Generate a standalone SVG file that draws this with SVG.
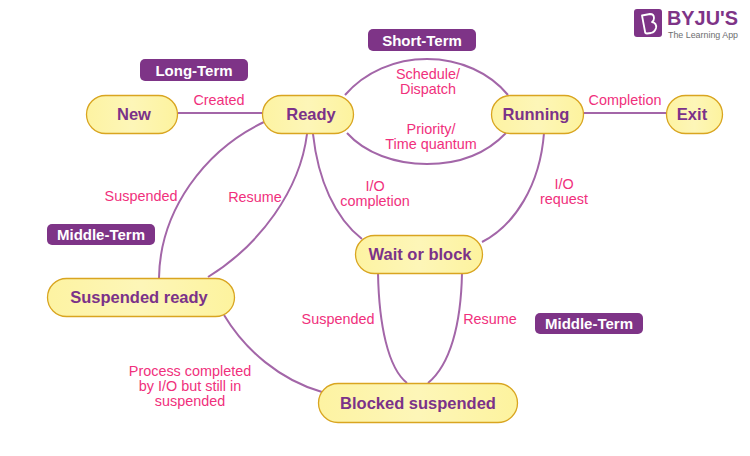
<svg xmlns="http://www.w3.org/2000/svg" width="750" height="456" viewBox="0 0 750 456">
<style>
text{font-family:"Liberation Sans",Arial,sans-serif;text-anchor:middle}
.n rect{fill:url(#g);stroke:#d9a520;stroke-width:1.3}
.n text{fill:#7b3289;font-weight:bold;font-size:16.500px}
.b rect{fill:#7e3487}
.b text{fill:#fff;font-weight:bold;font-size:15px}
.l{fill:#f0307c;font-size:14.400px}
#c path{fill:none;stroke:#a366a8;stroke-width:2}
</style>
<defs><linearGradient id="g" x1="0" y1="0" x2="1" y2="0"><stop offset="0" stop-color="#fdf3a2"/><stop offset=".5" stop-color="#fdf6b8"/><stop offset="1" stop-color="#fdf39e"/></linearGradient></defs>
<rect width="750" height="456" fill="#fff"/>
<g id="c">
<path d="M178 113H262"/>
<path d="M345 95C365 72 395 59 427 59C460 59 490 73 508 95"/>
<path d="M347 133C365 153 395 164 427 164C458 164 486 154 506 133"/>
<path d="M584 113H666"/>
<path d="M264 122C205 150 160 210 159 278"/>
<path d="M307 134C300 190 260 245 208 277"/>
<path d="M313 134C318 180 335 218 362 239"/>
<path d="M544 133C540 185 515 225 482 242"/>
<path d="M378 273C379 325 388 368 407 383"/>
<path d="M462 273C461 325 450 365 428 383"/>
<path d="M224 315C245 350 280 380 322 392"/>
</g>
<g id="logo"><rect x="634" y="9" width="28" height="28" rx="3" fill="#7e3487"/><path d="M642 15.500L650 14Q654 14 654 18Q654 21 652 22Q657 23 656 28Q655 32 651 33L647 33.500Q645 33.500 645 31.500Z" fill="none" stroke="#fff" stroke-width="1.800" stroke-linejoin="round"/>
<text x="702.500" y="25" font-size="20" font-weight="bold" fill="#7e3487" textLength="71" lengthAdjust="spacingAndGlyphs">BYJU'S</text>
<text x="703" y="37.500" font-size="9.500" fill="#6d6e71" textLength="70" lengthAdjust="spacingAndGlyphs">The Learning App</text></g>
<g id="new" class="n"><rect x="86.500" y="95.500" width="91" height="38" rx="19"/><text x="134" y="120">New</text></g>
<g id="ready" class="n"><rect x="262.500" y="95.500" width="91" height="38" rx="19"/><text x="311" y="120">Ready</text></g>
<g id="running" class="n"><rect x="491.500" y="95.500" width="92" height="38" rx="19"/><text x="536" y="120">Running</text></g>
<g id="exit" class="n"><rect x="666.500" y="95.500" width="56" height="38" rx="19"/><text x="692" y="120">Exit</text></g>
<g id="wait" class="n"><rect x="355.500" y="235.500" width="127" height="38" rx="19"/><text x="420" y="260">Wait or block</text></g>
<g id="suspended-ready" class="n"><rect x="47.500" y="278.500" width="187" height="38" rx="19"/><text x="139" y="303">Suspended ready</text></g>
<g id="blocked-suspended" class="n"><rect x="318.500" y="383.500" width="199" height="39" rx="19.500"/><text x="418" y="409">Blocked suspended</text></g>
<g id="short-term" class="b"><rect x="368" y="29" width="108" height="22" rx="5"/><text x="422" y="45.500">Short-Term</text></g>
<g id="long-term" class="b"><rect x="140" y="59" width="108" height="22" rx="5"/><text x="194" y="75.500">Long-Term</text></g>
<g id="middle-term-1" class="b"><rect x="47" y="224" width="108" height="21" rx="5"/><text x="101" y="240">Middle-Term</text></g>
<g id="middle-term-2" class="b"><rect x="535" y="313" width="108" height="21" rx="5"/><text x="589" y="329">Middle-Term</text></g>
<g id="labels">
<text class="l" x="219" y="105">Created</text>
<text class="l" x="428" y="79">Schedule/</text><text class="l" x="428" y="94">Dispatch</text>
<text class="l" x="431" y="134">Priority/</text><text class="l" x="431" y="149">Time quantum</text>
<text class="l" x="625" y="105">Completion</text>
<text class="l" x="141" y="201">Suspended</text>
<text class="l" x="255" y="201.500">Resume</text>
<text class="l" x="375" y="191">I/O</text><text class="l" x="375" y="206">completion</text>
<text class="l" x="564" y="189">I/O</text><text class="l" x="564" y="204">request</text>
<text class="l" x="338" y="324">Suspended</text>
<text class="l" x="490" y="324">Resume</text>
<text class="l" x="190" y="376">Process completed</text><text class="l" x="190" y="391">by I/O but still in</text><text class="l" x="190" y="406">suspended</text>
</g>
</svg>
